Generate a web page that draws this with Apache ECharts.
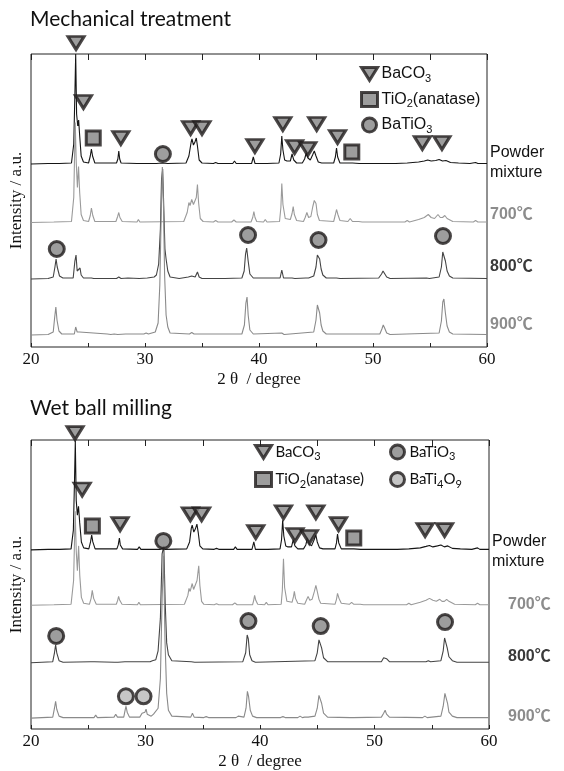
<!DOCTYPE html>
<html><head><meta charset="utf-8">
<script src="https://cdn.jsdelivr.net/npm/echarts@6/dist/echarts.min.js"></script>
<style>html,body{margin:0;padding:0;background:#fff}#c{width:564px;height:771px}</style>
</head><body><div id="c"></div>
<script>
// ---------- DATA (2θ, intensity above own baseline) ----------
const xTicks = [20, 30, 40, 50, 60];
const sampleNames = ['Powder mixture', '700℃', '800℃', '900℃'];
const mtOffsets = [183, 124.5, 68, 12];
const wbOffsets = [181, 125, 67, 11];

const mtPowder = [[20,0],[21.5,0.5],[22.5,0.5],[23.55,1],[23.75,20],[23.85,70],[23.92,110],[24.0,50],[24.1,38],[24.18,44],[24.26,30],[24.4,8],[24.6,2],
[25.05,1],[25.2,8],[25.3,15],[25.4,8],[25.6,1],[27.5,1],[27.62,5],[27.7,13],[27.78,5],[27.9,1],[29.3,0.5],[29.45,2.5],[29.6,0.5],[31.0,0.5],[31.5,1],[32,0.5],
[33.6,1],[33.85,8],[34.05,22],[34.12,25],[34.25,19],[34.38,22],[34.5,26],[34.6,18],[34.75,4],[35.0,1],[36.0,0.5],[36.2,1.5],[36.4,0.5],[37.7,0.5],[37.85,3],[38.0,0.5],
[39.35,0.5],[39.5,7],[39.65,0.5],[40.4,0.5],[40.55,2],[40.7,0.5],[41.75,1],[41.9,10],[42.0,28],[42.1,14],[42.25,4],[42.45,3],[42.75,3],[42.9,10],[43.05,4],[43.3,1],
[43.8,1],[44.0,5],[44.15,11],[44.3,6],[44.5,4],[44.7,9],[44.85,13],[45.0,8],[45.2,2],[45.5,1],[46.55,1],[46.7,7],[46.8,16],[46.9,7],[47.1,1],
[47.9,1],[48.05,3],[48.2,1],[48.8,0.5],[48.95,2],[49.1,0.5],[50,0.5],[52,0.5],[53,1],[54,2],[54.5,3],[54.8,4],[55.1,3],[55.5,3.5],[55.8,4.5],[56.1,3],[56.4,3.5],[56.8,1.5],[57.5,1],[58.5,0.5],[59,1.5],[59.2,0.5],[60,0.5]];

const mt700 = [[20,0],[22,0.5],[23.55,1],[23.75,25],[23.88,100],[23.97,60],[24.07,35],[24.17,56],[24.27,30],[24.4,8],[24.6,2],
[25.05,1],[25.2,7],[25.3,14.5],[25.42,7],[25.6,1],[27.45,1],[27.6,6],[27.7,10],[27.8,5],[28,1],[29.3,0.5],[29.42,3],[29.55,0.5],
[33.4,1],[33.7,10],[33.85,20],[33.95,17],[34.1,23],[34.25,18],[34.35,16],[34.5,25],[34.6,38],[34.7,20],[34.85,4],[35.1,1],
[36.0,0.5],[36.2,2],[36.4,0.5],[37.6,0.5],[37.8,2.5],[38.0,0.5],[39.3,0.5],[39.45,5],[39.55,11],[39.65,5],[39.8,1],[40.4,0.5],[40.55,3],[40.7,0.5],
[41.8,1],[41.92,15],[42.0,39],[42.1,18],[42.3,4],[42.75,3],[42.9,9],[43.0,16],[43.1,8],[43.3,2],
[43.9,1],[44.05,5],[44.2,10],[44.35,5],[44.55,6],[44.72,16],[44.85,22],[45.0,19],[45.12,8],[45.3,2],[46.55,1],[46.68,7],[46.8,13],[46.92,8],[47.1,2],
[47.8,1],[48.0,4],[48.2,1],[48.75,1],[48.9,3],[49.05,0.5],[51,0.5],[52.8,0.5],[53,2],[53.2,0.5],[54,3],[54.5,5],[54.85,8],[55.1,5],[55.4,4],[55.7,8],[55.9,5],[56.1,5],[56.3,7],[56.5,4],[57,1],[58.8,0.5],[59,2],[59.2,0.5],[60,0.5]];

const mt800 = [[20,0],[21.5,0.5],[21.95,2],[22.1,12],[22.2,20],[22.3,12],[22.5,3],[22.8,1],[23.7,1],[23.85,18],[23.95,24],[24.05,8],[24.2,6],[24.3,11],[24.4,4],[24.6,1],
[25.3,1],[25.5,0.5],[27.5,0.5],[27.7,2],[27.9,0.5],[28.5,1],[29.5,0.5],[30.2,1],[30.8,2],
[31.0,4],[31.2,15],[31.35,50],[31.45,100],[31.55,110],[31.65,70],[31.75,30],[31.85,20],[32.0,8],[32.2,2],
[33.0,0.5],[33.8,2],[34.1,3],[34.4,2],[34.6,7],[34.75,2],[35,0.5],[37,0.5],[38.5,1],[38.7,8],[38.82,25],[38.92,31],[39.05,18],[39.2,5],[39.5,1],
[41.85,1],[42.0,9],[42.15,1],[42.9,1],[43.0,3],[43.15,0.5],[44.1,1],[44.2,3],[44.35,1],
[44.8,3],[45.0,12],[45.12,24],[45.22,26],[45.32,20],[45.45,10],[45.6,4],[45.9,1],[46.8,1],[46.9,3],[47.1,0.5],
[50.5,1],[50.75,5],[50.88,8],[51.0,6],[51.2,2],[51.5,0.5],[54.7,1],[54.8,3],[54.95,0.5],
[55.8,2],[56.0,12],[56.12,27],[56.22,28],[56.35,18],[56.5,8],[56.7,3],[57,1],[60,0.5]];

const mt900 = [[20,0],[21.5,0.5],[21.95,3],[22.08,18],[22.18,28],[22.28,15],[22.45,4],[22.7,1],[23.8,1],[23.92,8],[24.05,3],[24.25,3],[24.4,1],
[26.7,1],[26.85,2],[27.0,0.5],[27.3,1],[27.45,2],[27.6,0.5],[28.3,1],[29.9,1],[30.1,2],[30.3,1],
[30.9,3],[31.15,12],[31.3,50],[31.42,120],[31.52,168],[31.62,130],[31.72,60],[31.85,20],[32.0,8],[32.2,2],
[33.9,1],[34.1,2.5],[34.3,1],[38.5,1],[38.72,10],[38.85,32],[38.95,38],[39.05,20],[39.2,5],[39.5,1],[42.0,2],[42.2,0.5],
[44.8,3],[45.0,15],[45.12,30],[45.22,32],[45.32,22],[45.45,10],[45.6,4],[45.9,1],
[50.6,1],[50.78,6],[50.9,10],[51.02,7],[51.2,2],[51.5,0.5],[55.8,2],[56.0,14],[56.12,33],[56.22,36],[56.35,22],[56.5,9],[56.7,3],[57,1],[60,0.5]];

const wbPowder = [[20,0],[21.5,0.5],[22.5,0.5],[23.5,1],[23.7,20],[23.8,70],[23.87,110],[23.95,50],[24.05,35],[24.15,44],[24.25,28],[24.4,8],[24.6,2],
[25.05,1],[25.2,8],[25.3,15],[25.4,8],[25.6,1],[27.5,1],[27.62,5],[27.72,12],[27.8,5],[28.0,1],[29.3,0.5],[29.45,3],[29.6,0.5],[31.3,0.5],[31.5,1.5],[31.7,0.5],
[33.6,1],[33.85,8],[34.0,22],[34.08,25],[34.22,18],[34.35,21],[34.49,26],[34.6,18],[34.75,4],[35.0,1],[36.0,0.5],[36.2,1.5],[36.4,0.5],[37.7,0.5],[37.85,3],[38.0,0.5],
[39.3,0.5],[39.46,8],[39.6,0.5],[40.4,0.5],[40.55,2],[40.7,0.5],[41.75,1],[41.88,10],[41.98,30],[42.08,14],[42.25,4],[42.45,3],[42.75,3],[42.9,10],[43.05,4],[43.3,1],
[43.8,1],[44.0,5],[44.15,12],[44.3,6],[44.5,4],[44.72,10],[44.88,15],[45.0,8],[45.2,2],[45.5,1],[46.55,1],[46.68,7],[46.77,16],[46.88,7],[47.1,1],
[47.9,1],[48.05,3],[48.2,1],[48.8,0.5],[48.95,2],[49.1,0.5],[50,0.5],[52,0.5],[53,1],[54,2],[54.5,3.5],[54.8,4.5],[55.1,3],[55.5,4],[55.8,5],[56.1,3],[56.4,4],[56.8,1.5],[57.5,1],[58.5,0.5],[59,2],[59.2,0.5],[60,0.5]];

const wb700 = [[20,0],[22,0.5],[23.5,1],[23.72,25],[23.86,95],[23.95,55],[24.05,35],[24.16,60],[24.26,30],[24.4,8],[24.6,2],
[25.1,1],[25.25,7],[25.35,15],[25.47,7],[25.7,1],[27.45,1],[27.57,5],[27.65,9],[27.75,5],[27.95,1],[29.3,0.5],[29.42,3],[29.55,0.5],
[33.4,1],[33.7,10],[33.8,17],[33.9,14],[34.08,22],[34.2,16],[34.35,17],[34.5,25],[34.65,40],[34.75,20],[34.9,4],[35.1,1],
[36.0,0.5],[36.2,1.5],[36.4,0.5],[37.6,0.5],[37.8,2.5],[38.0,0.5],[39.35,0.5],[39.45,5],[39.53,10],[39.63,5],[39.8,1],[40.4,0.5],[40.55,3],[40.7,0.5],
[41.85,1],[41.95,15],[42.05,47],[42.15,18],[42.35,4],[42.8,3],[42.93,9],[43.0,14],[43.1,7],[43.3,2],
[43.9,1],[44.05,5],[44.2,9],[44.35,5],[44.55,6],[44.75,14],[44.88,20],[45.0,14],[45.15,6],[45.3,2],[46.55,1],[46.68,6],[46.77,12],[46.9,7],[47.1,2],
[47.8,1],[48.0,3],[48.2,1],[48.75,1],[48.9,2.5],[49.05,0.5],[51,0.5],[52.8,0.5],[53,2],[53.2,0.5],[54,3],[54.5,5],[54.8,7],[55.1,5],[55.4,4],[55.7,6],[55.9,4],[56.1,4],[56.3,6],[56.5,4],[57,1],[58.8,0.5],[59,2],[59.2,0.5],[60,0.5]];

const wb800 = [[20,0],[21.9,1],[22.05,10],[22.15,18],[22.25,10],[22.45,2],[22.8,0.5],[25.2,1],[25.35,3],[25.55,1],[27.3,0.5],[27.45,2],[27.6,0.5],[28.2,1],[28.35,3],[28.5,1],[29.5,1],[29.65,3],[29.8,1],[30.4,1],[30.6,2],[30.9,3],
[31.1,12],[31.3,45],[31.45,110],[31.6,118],[31.72,60],[31.85,20],[32.0,8],[32.3,2],[34.0,1],[34.15,2],[34.3,0.5],
[38.5,1],[38.75,10],[38.88,28],[38.98,24],[39.1,8],[39.3,2],[39.6,0.5],[44.8,2],[45.0,10],[45.15,23],[45.25,25],[45.38,15],[45.55,5],[45.9,1],
[50.6,1],[50.8,5],[50.93,7],[51.05,4],[51.3,1],[54.5,1],[54.7,2],[54.9,1],[55.8,2],[56.0,12],[56.12,25],[56.22,26],[56.35,15],[56.5,6],[56.8,2],[57.2,0.5],[60,0.5]];

const wb900 = [[20,0],[21.9,1],[22.05,10],[22.15,17],[22.25,9],[22.45,2],[22.8,0.5],[23.1,0.5],[23.2,2],[23.35,0.5],[25.5,0.5],[25.65,3],[25.8,0.5],[27.25,1],[27.4,4],[27.55,1],
[28.1,1],[28.22,8],[28.3,12],[28.4,6],[28.6,1],[29.5,1],[29.7,5],[29.8,3],[29.95,6],[30.05,9],[30.15,4],[30.5,2],[30.7,4],[30.85,3],
[31.1,10],[31.3,40],[31.45,120],[31.58,164],[31.7,80],[31.85,25],[32.0,8],[32.3,2],[33.95,1],[34.1,5],[34.25,1],[35.1,0.5],[35.3,1.5],[35.5,0.5],[37.9,0.5],[38.1,2],
[38.6,1],[38.78,10],[38.9,27],[39.0,22],[39.15,8],[39.35,2],[39.7,0.5],[41.8,0.5],[42.0,1.5],[42.2,0.5],[43.3,0.5],[43.5,2],[43.7,0.5],[43.9,1],[44.05,3],[44.2,1],
[44.8,2],[45.0,10],[45.15,23],[45.25,25],[45.38,15],[45.55,5],[45.9,1],[47.9,0.5],[48.0,2],[48.15,0.5],
[50.6,1],[50.8,5],[50.93,8],[51.05,4],[51.3,1],[54.2,0.5],[54.4,2],[54.6,0.5],[55.8,2],[56.0,12],[56.15,25],[56.25,26],[56.38,15],[56.5,6],[56.8,2],[57.2,0.5],[60,0.5]];

// phase markers [2θ, level on plot]
const mtBaCO3 = [[23.95,304],[24.6,245],[27.88,209],[34.0,219],[35.0,219],[39.64,201],[42.09,223],[43.12,200],[44.28,198],[45.06,223],[46.89,210],[54.33,204],[56.05,204]];
const mtTiO2 = [[25.46,209],[48.14,195]];
const mtBaTiO3 = [[31.57,193],[22.26,98],[39.04,112],[45.22,107],[56.14,111]];
const wbBaCO3 = [[23.85,299],[24.47,242],[27.78,207],[33.92,217],[34.9,217],[39.63,199],[42.05,219],[43.06,196],[44.31,194],[44.88,219],[46.86,207],[54.42,201],[56.12,201]];
const wbTiO2 = [[25.36,205],[48.19,193]];
const wbBaTiO3 = [[31.56,190],[22.2,94],[38.99,109],[45.3,104],[56.16,108]];
const wbBaTi4O9 = [[28.29,33],[29.83,33]];

// ---------- CHART ----------
const lineColors = ['#151515', '#9a9a9a', '#444444', '#8a8a8a'];
const labelColors = ['#111111', '#8c8c8c', '#3a3a3a', '#8c8c8c'];
const tri = 'path://M0,0L20,0L10,16Z';
const mk = {color: '#858585', borderColor: '#1e1a1a', borderWidth: 3};
const mkLight = {color: '#b8b8b8', borderColor: '#1e1a1a', borderWidth: 3};
const serif = "'Liberation Serif','Times New Roman',serif";
const sans = "'Liberation Sans',Arial,'Noto Sans CJK JP',sans-serif";
const lato = "Lato,'Noto Sans',sans-serif";

function lines(list, offsets, xi, yi) {
  return list.map((d, i) => ({
    type: 'line', name: sampleNames[i], xAxisIndex: xi, yAxisIndex: yi,
    data: d.map(p => [p[0], p[1] + offsets[i]]),
    showSymbol: false, symbol: 'none', lineStyle: {color: lineColors[i], width: 1.1}, z: 2, silent: true, animation: false
  }));
}
function marks(name, data, symbol, size, style, xi, yi) {
  return {type: 'scatter', name, data, symbol, symbolSize: size, itemStyle: style, xAxisIndex: xi, yAxisIndex: yi, clip: false, z: 5, animation: false};
}

const xBase = {type: 'value', min: 20, max: 60, interval: 5, axisLine: {show: false}, splitLine: {show: false}};
function xBottom(gi, len) {
  return Object.assign({}, xBase, {gridIndex: gi, position: 'bottom',
    axisTick: {inside: true, length: len, lineStyle: {color: '#222'}},
    axisLabel: {margin: 4, fontFamily: serif, fontSize: 17, color: '#111', formatter: v => (xTicks.indexOf(v) >= 0 ? String(v) : '')},
    name: '2 θ  / degree', nameLocation: 'middle', nameGap: 24, nameTextStyle: {fontFamily: serif, fontSize: 17, color: '#111'}});
}
function xTop(gi) {
  return Object.assign({}, xBase, {gridIndex: gi, position: 'top', axisTick: {inside: true, length: 6, lineStyle: {color: '#222'}}, axisLabel: {show: false}});
}
function yAx(gi, max) {
  return {type: 'value', gridIndex: gi, min: 0, max: max, axisLine: {show: false}, axisTick: {show: false}, axisLabel: {show: false}, splitLine: {show: false},
    name: 'Intensity / a.u.', nameLocation: 'middle', nameGap: 6, nameTextStyle: {fontFamily: serif, fontSize: 17, color: '#111'}};
}

const rich = {s: {fontSize: 11, lineHeight: 9, verticalAlign: 'bottom'}};
const legendNames = {BaCO3: 'BaCO{s|3}', TiO2: 'TiO{s|2}(anatase)', BaTiO3: 'BaTiO{s|3}', BaTi4O9: 'BaTi{s|4}O{s|9}'};
function legend(names, left, top, font, size, gap) {
  return {orient: 'vertical', left, top, itemWidth: 16, itemHeight: 14, itemGap: gap, selectedMode: false,
    data: names.map(n => ({name: n, icon: n === 'BaCO3' ? tri : (n === 'TiO2' ? 'rect' : 'circle')})),
    formatter: n => legendNames[n],
    itemStyle: {borderWidth: 3, borderColor: '#1e1a1a'},
    textStyle: {fontFamily: font, fontSize: size, color: '#111', lineHeight: 20, padding: [0, 0, 0, -1], rich}};
}

function txt(x, y, text, color, weight, size, font) {
  return {type: 'text', x, y, style: {text, fill: color, fontFamily: font || sans, fontSize: size || 16, fontWeight: weight || 'normal', verticalAlign: 'middle', align: 'left'}};
}

const option = {
  backgroundColor: '#fff',
  animation: false,
  grid: [
    {left: 30, right: 77, top: 54, height: 293, show: true, borderColor: '#222', borderWidth: 1},
    {left: 31, right: 75, top: 440, height: 292, show: true, borderColor: '#222', borderWidth: 1}
  ],
  xAxis: [xBottom(0, 4), xTop(0), xBottom(1, 4), xTop(1)],
  yAxis: [yAx(0, 293), yAx(1, 292)],
  legend: [
    legend(['BaCO3', 'TiO2', 'BaTiO3'], 355, 59, sans, 16, 5.5),
    legend(['BaCO3', 'TiO2'], 249, 437, lato, 15, 7.5),
    legend(['BaTiO3', 'BaTi4O9'], 384, 437, lato, 15, 7.5)
  ],
  graphic: [
    txt(30, 19, 'Mechanical treatment', '#111', 'normal', 21, lato),
    txt(30, 408, 'Wet ball milling', '#111', 'normal', 21, lato),
    txt(490, 153, 'Powder', labelColors[0]), txt(490, 173, 'mixture', labelColors[0]),
    txt(490, 215, '700℃', labelColors[1], 'bold'), txt(490, 267, '800℃', labelColors[2], 'bold'), txt(490, 325, '900℃', labelColors[3], 'bold'),
    txt(492, 542, 'Powder', labelColors[0]), txt(492, 562, 'mixture', labelColors[0]),
    txt(508, 605, '700℃', labelColors[1], 'bold'), txt(508, 657, '800℃', labelColors[2], 'bold'), txt(508, 717, '900℃', labelColors[3], 'bold')
  ],
  series: [].concat(
    lines([mtPowder, mt700, mt800, mt900], mtOffsets, 0, 0),
    lines([wbPowder, wb700, wb800, wb900], wbOffsets, 2, 1),
    [
      marks('BaCO3', mtBaCO3, tri, [16, 13], mk, 0, 0),
      marks('TiO2', mtTiO2, 'rect', 14, mk, 0, 0),
      marks('BaTiO3', mtBaTiO3, 'circle', 15, mk, 0, 0),
      marks('BaCO3', wbBaCO3, tri, [16, 13], mk, 2, 1),
      marks('TiO2', wbTiO2, 'rect', 14, mk, 2, 1),
      marks('BaTiO3', wbBaTiO3, 'circle', 15, mk, 2, 1),
      marks('BaTi4O9', wbBaTi4O9, 'circle', 15, mkLight, 2, 1)
    ])
};
const chart = echarts.init(document.getElementById('c'), null, {renderer: 'canvas'});
chart.setOption(option);
</script></body></html>
